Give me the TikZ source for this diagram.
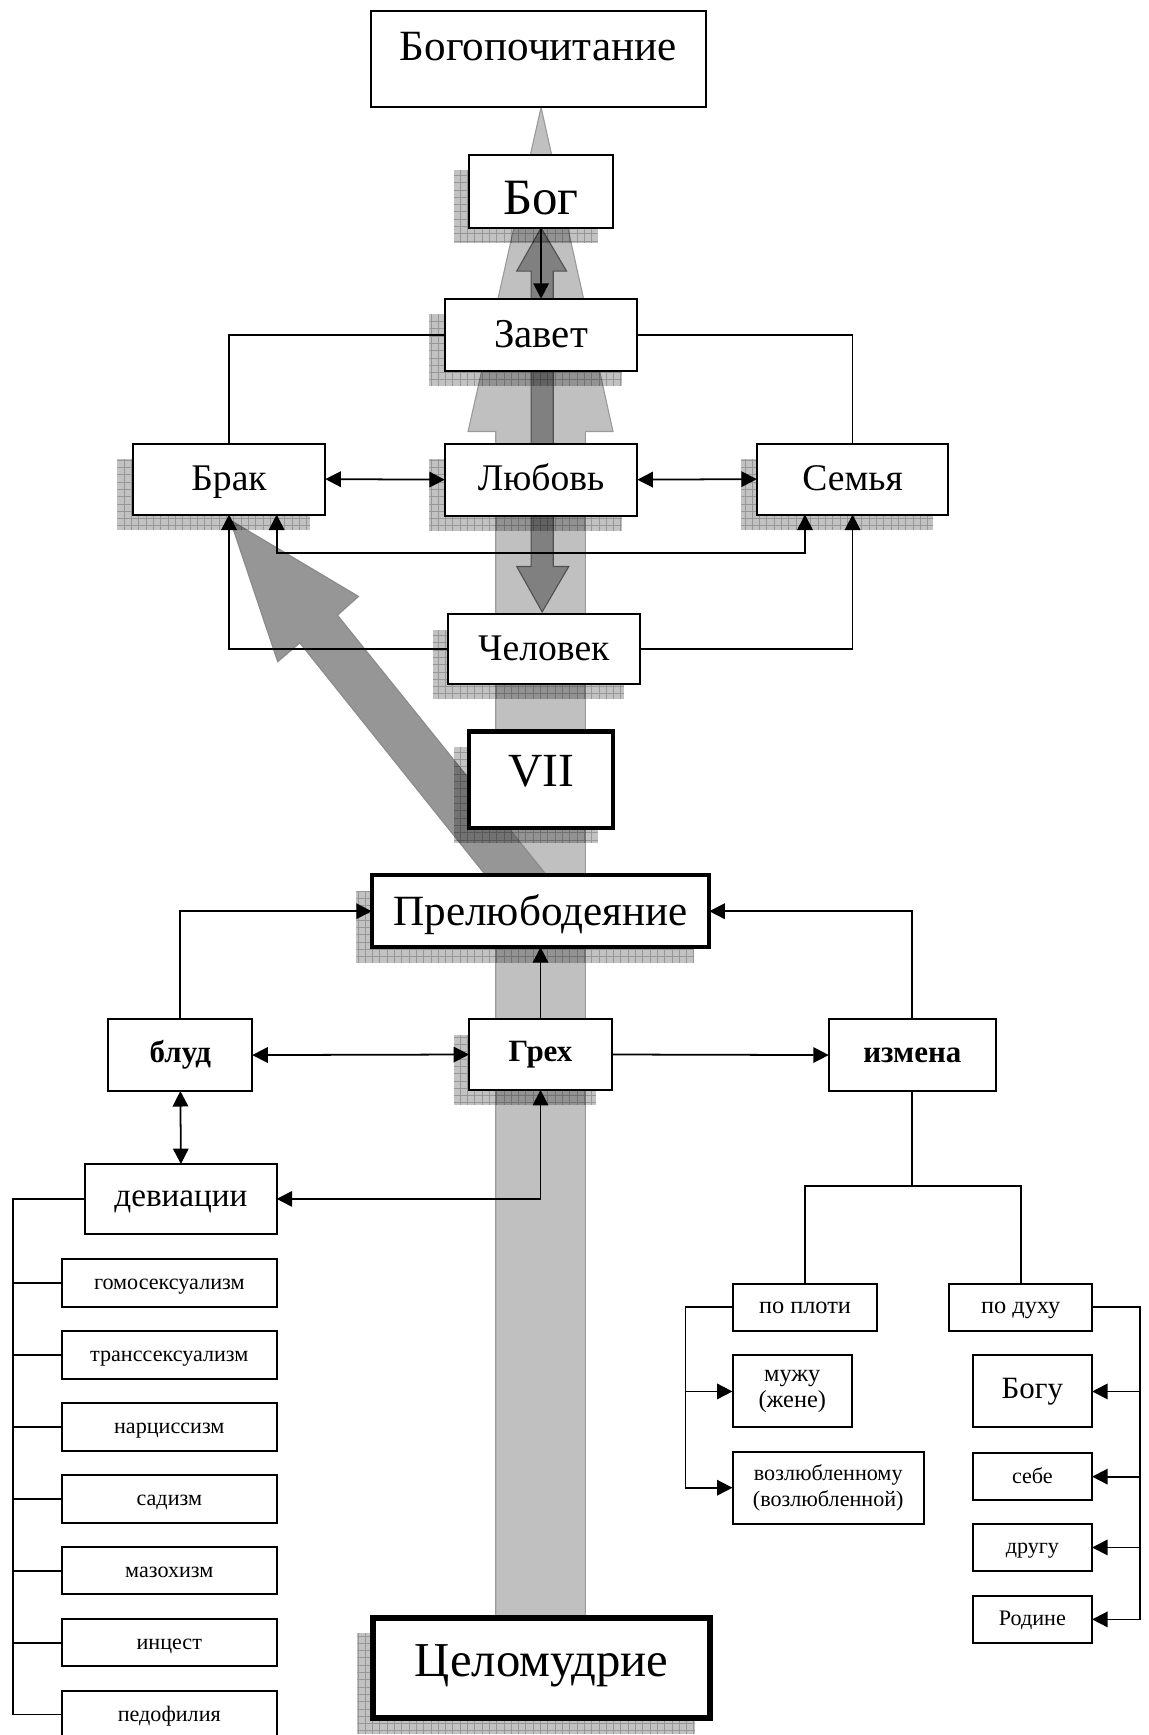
\documentclass[tikz,border=0pt]{standalone}
\usepackage{fontspec}
\setmainfont{Liberation Serif}
\usetikzlibrary{arrows.meta}
\pgfdeclarelayer{garrows}
\pgfdeclarelayer{shad}
\pgfsetlayers{garrows,shad,main}
\definecolor{lightcol}{HTML}{C0C0C0}
\definecolor{lightedge}{HTML}{9A9A9A}
\definecolor{darkcol}{HTML}{808080}
\definecolor{darkedge}{HTML}{505050}
\definecolor{diagcol}{HTML}{969696}
\definecolor{diagedge}{HTML}{8A8A8A}
\newcommand\fs[1]{\fontsize{#1}{#1}\selectfont}
\newcommand\vc[2][0pt]{\raisebox{0pt}[0.72em][0.25em]{\raisebox{#1}{#2}}}
\newcommand\mybox[7]{%
  \pgfmathsetmacro\bxw{(#4-#2)*0.5}%
  \pgfmathsetmacro\bxh{(#5-#3)*0.5}%
  \node[#6, minimum width=\bxw pt, minimum height=\bxh pt] (#1) at ({(#2+#4)/2},{(#3+#5)/2}) {#7};%
}
\newcommand\shd[1]{\fill[shadowrect] ([shift={(-14,14)}]#1.south west) rectangle ([shift={(-14,14)}]#1.north east);}
\tikzset{
  box/.style={draw=black, line width=0.9pt, fill=white, inner sep=0pt, outer sep=0pt, align=center},
  thickbox/.style={box, line width=1.9pt},
  thickerbox/.style={box, line width=2.7pt},
  conn/.style={line width=0.8pt},
  arr/.style={-{Triangle[length=7pt,width=7pt]}},
  arrtwo/.style={{Triangle[length=7pt,width=7pt]}-{Triangle[length=7pt,width=7pt]}},
  shadowrect/.style={fill=black, fill opacity=0.24,
    path picture={\draw[black, opacity=0.22, line width=0.3pt, step=3.3pt] (path picture bounding box.south west) grid (path picture bounding box.north east);}},
  small/.style={box, font=\fs{10}},
}
\begin{document}
\begin{tikzpicture}[x=0.5pt,y=-0.5pt]
\useasboundingbox (0,0) rectangle (1038,1568);

% gray background arrows
\begin{pgfonlayer}{garrows}
\filldraw[fill=lightcol, draw=lightedge, line width=0.5pt] (448,1470) -- (448,390) -- (423,390) -- (489,97) -- (554,390) -- (529,390) -- (529,1470) -- cycle;
\filldraw[fill=darkcol, draw=darkedge, line width=0.5pt] (480,245) -- (467,245) -- (489,206) -- (512,245) -- (500,245) -- (500,512) -- (514,512) -- (490,553) -- (467,512) -- (480,512) -- cycle;
\filldraw[fill=diagcol, draw=diagedge, line width=0.5pt] (208,470) -- (324,539) -- (305,556) -- (494,791) -- (439,791) -- (271,581) -- (251,598) -- cycle;
\end{pgfonlayer}

% boxes
\mybox{bogop}{335}{10}{638}{97}{box}{}
\node[font=\fs{19.5}] (bogoptxt) at (486.5,42) {Богопочитание};
\mybox{bog}{424}{140}{554}{206}{box, font=\fs{23}}{\vc[-5pt]{Бог}}
\mybox{zavet}{402}{270}{576}{335}{box, font=\fs{18.5}}{\vc[-1.5pt]{Завет}}
\mybox{brak}{120}{401}{294}{465}{box, font=\fs{17}}{\vc[-1pt]{Брак}}
\mybox{lub}{402}{401}{576}{466}{box, font=\fs{17}}{\vc[-1pt]{Любовь}}
\mybox{semya}{684}{401}{857}{465}{box, font=\fs{17}}{\vc[-1pt]{Семья}}
\mybox{chel}{405}{555}{578}{618}{box, font=\fs{17}}{\vc[-1pt]{Человек}}
\mybox{vii}{424}{661}{554}{748}{thickbox}{}
\node[font=\fs{21.5}] (viitxt) at (489,697) {VII};
\mybox{prel}{336}{791}{641}{856}{thickbox, font=\fs{19.5}}{\vc[-2pt]{Прелюбодеяние}}
\mybox{blud}{98}{921}{228}{986}{box, font=\fs{14}\bfseries}{\vc{блуд}}
\mybox{greh}{424}{921}{553}{985}{box, font=\fs{14}\bfseries}{\vc{Грех}}
\mybox{izm}{749}{921}{900}{986}{box, font=\fs{14}\bfseries}{\vc{измена}}
\mybox{dev}{77}{1052}{250}{1115}{box, font=\fs{15}}{\vc{девиации}}
\mybox{la}{56}{1138}{250}{1181}{small}{\vc[-0.6pt]{гомосексуализм}}
\mybox{lb}{56}{1203}{250}{1246}{small}{\vc[-0.6pt]{транссексуализм}}
\mybox{lc}{56}{1268}{250}{1311}{small}{\vc[-0.6pt]{нарциссизм}}
\mybox{ld}{56}{1333}{250}{1376}{small}{\vc[-0.6pt]{садизм}}
\mybox{le}{56}{1398}{250}{1441}{small}{\vc[-0.6pt]{мазохизм}}
\mybox{lf}{56}{1463}{250}{1506}{small}{\vc[-0.6pt]{инцест}}
\mybox{lg}{56}{1528}{250}{1571}{small}{\vc[-0.6pt]{педофилия}}
\mybox{ploti}{662}{1160}{793}{1203}{box, font=\fs{11}}{\vc{по плоти}}
\mybox{duhu}{858}{1160}{987}{1203}{box, font=\fs{11}}{\vc{по духу}}
\mybox{muzh}{662}{1225}{770}{1290}{box, font=\fontsize{11}{12}\selectfont}{мужу\\(жене)}
\mybox{vozl}{662}{1312}{835}{1377}{box, font=\fontsize{10}{12}\selectfont}{возлюбленному\\(возлюбленной)}
\mybox{bogu}{879}{1225}{987}{1290}{box, font=\fs{14}}{\vc{Богу}}
\mybox{sebe}{879}{1313}{987}{1356}{small}{\vc[-0.6pt]{себе}}
\mybox{drugu}{879}{1377}{987}{1420}{small}{\vc[-0.6pt]{другу}}
\mybox{rodine}{879}{1442}{987}{1485}{small}{\vc[-0.6pt]{Родине}}
\mybox{celom}{337}{1462}{642}{1553}{thickerbox, font=\fs{22}}{\vc[1.4pt]{Целомудрие}}

% shadows
\begin{pgfonlayer}{shad}
\shd{bog}\shd{zavet}\shd{brak}\shd{lub}\shd{semya}\shd{chel}\shd{vii}\shd{prel}\shd{greh}\shd{celom}
\end{pgfonlayer}

% connectors upper part
\draw[conn, arr] (bog.south) -- (zavet.north);
\draw[conn] (zavet.west) -| (brak.north);
\draw[conn] (zavet.east) -| (semya.north);
\draw[conn, arrtwo] (brak.east) -- (lub.west);
\draw[conn, arrtwo] (lub.east) -- (semya.west);
\draw[conn, arrtwo] ([xshift=21.5pt]brak.south) -- ++(0,35) -| ([xshift=-21.5pt]semya.south);
\draw[conn, arr] (chel.west) -| (brak.south);
\draw[conn, arr] (chel.east) -| (semya.south);

% connectors lower part
\draw[conn, arr] (greh.north) -- (prel.south);
\draw[conn, arr] (blud.north) |- (prel.west);
\draw[conn, arr] (izm.north) |- (prel.east);
\draw[conn, arrtwo] (blud.east) -- (greh.west);
\draw[conn, arr] (greh.east) -- (izm.west);
\draw[conn, arrtwo] (blud.south) -- (dev.north);
\draw[conn, arrtwo] (dev.east) -| (greh.south);

% deviations list
\coordinate (devL) at (12,0);
\draw[conn] (dev.west) -- (dev.west -| devL) -- (lg.west -| devL) -- (lg.west);
\foreach \n in {la,lb,lc,ld,le,lf}{\draw[conn] (\n.west -| devL) -- (\n.west);}

% izmena branches
\draw[conn] (izm.south) -- ++(0,86) coordinate (izmB);
\draw[conn] (ploti.north) |- (izmB) -| (duhu.north);
\coordinate (pL) at (619.5,0);
\draw[conn, arr] (ploti.west) -- (ploti.west -| pL) |- (vozl.west);
\draw[conn, arr] (muzh.west -| pL) -- (muzh.west);
\coordinate (dR) at (1030.5,0);
\draw[conn, arr] (duhu.east) -- (duhu.east -| dR) |- (rodine.east);
\foreach \n in {bogu,sebe,drugu}{\draw[conn, arr] (\n.east -| dR) -- (\n.east);}
\end{tikzpicture}
\end{document}
